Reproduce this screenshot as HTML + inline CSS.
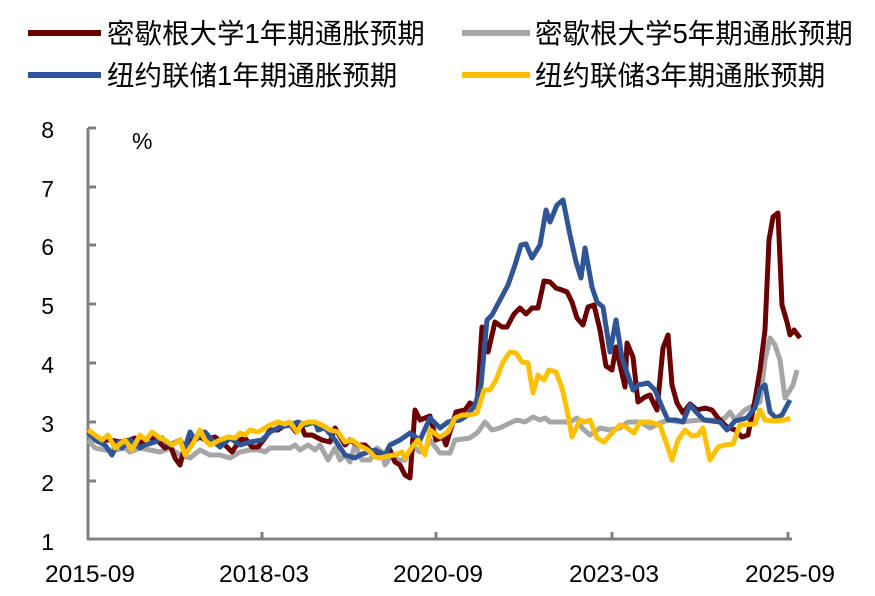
<!DOCTYPE html>
<html><head><meta charset="utf-8"><style>
body{margin:0;background:#fff}
svg{display:block;font-family:"Liberation Sans","Noto Sans CJK SC",sans-serif}
</style></head><body>
<svg width="875" height="596" viewBox="0 0 875 596">
<g font-size="27.5" fill="#000">
<line x1="28" y1="33" x2="101" y2="33" stroke="#6b0000" stroke-width="6"/>
<text x="107" y="43">密歇根大学1年期通胀预期</text>
<line x1="462" y1="33" x2="530" y2="33" stroke="#a6a6a6" stroke-width="6"/>
<text x="535" y="43">密歇根大学5年期通胀预期</text>
<line x1="28" y1="75" x2="101" y2="75" stroke="#2f5597" stroke-width="6"/>
<text x="107" y="85">纽约联储1年期通胀预期</text>
<line x1="462" y1="75" x2="530" y2="75" stroke="#ffc000" stroke-width="6"/>
<text x="535" y="85">纽约联储3年期通胀预期</text>
</g>
<g stroke="#808080" stroke-width="3" fill="none">
<line x1="88" y1="128" x2="88" y2="540"/>
<line x1="87" y1="539" x2="792" y2="539"/>
<line x1="262" y1="539" x2="262" y2="532"/>
<line x1="436" y1="539" x2="436" y2="532"/>
<line x1="612" y1="539" x2="612" y2="532"/>
<line x1="788" y1="539" x2="788" y2="532"/>
<line x1="88" y1="128" x2="96" y2="128"/>
<line x1="88" y1="187" x2="96" y2="187"/>
<line x1="88" y1="245" x2="96" y2="245"/>
<line x1="88" y1="304" x2="96" y2="304"/>
<line x1="88" y1="363" x2="96" y2="363"/>
<line x1="88" y1="422" x2="96" y2="422"/>
<line x1="88" y1="481" x2="96" y2="481"/>
</g>
<g font-size="23" fill="#000" text-anchor="end">
<text x="54" y="138">8</text><text x="54" y="197">7</text><text x="54" y="255">6</text>
<text x="54" y="314">5</text><text x="54" y="373">4</text><text x="54" y="432">3</text>
<text x="54" y="491">2</text><text x="54" y="550">1</text>
</g>
<text x="132" y="149" font-size="23">%</text>
<g font-size="24.5" fill="#000" text-anchor="middle">
<text x="90" y="582">2015-09</text><text x="264" y="582">2018-03</text>
<text x="438" y="582">2020-09</text><text x="614" y="582">2023-03</text>
<text x="790" y="582">2025-09</text>
</g>
<g fill="none" stroke-width="5" stroke-linejoin="round">
<polyline stroke="#a6a6a6" points="88,440 95,448 105,450 115,450 125,448 130,452 140,448 150,450 160,452 170,448 180,455 190,458 200,450 210,455 220,455 230,458 240,452 250,450 260,450 265,452 270,448 280,448 290,448 295,445 300,450 308,445 315,450 320,445 328,460 335,448 340,460 345,455 350,462 355,445 362,460 370,460 377,448 382,452 385,465 392,455 398,460 405,460 410,452 415,448 420,452 425,450 430,440 440,453 450,453 455,440 470,438 478,432 485,422 492,430 500,428 510,423 517,420 525,422 533,417 540,420 545,418 550,422 560,422 570,422 577,418 582,428 590,435 600,428 610,430 620,428 628,422 640,422 650,428 660,423 668,420 680,422 700,420 720,420 725,418 730,412 735,420 745,410 760,402 765,360 770,338 775,345 780,360 785,398 793,385 797,370"/>
<polyline stroke="#6b0000" points="88,430 100,440 110,440 120,442 130,440 135,438 140,443 148,438 155,438 165,448 170,445 175,458 180,465 185,446 190,440 195,440 200,437 205,440 215,437 225,445 232,452 240,440 245,438 252,447 258,447 265,438 270,430 278,430 285,425 290,424 296,432 300,423 305,435 312,435 322,440 330,442 335,428 345,445 350,440 358,445 365,445 375,455 385,455 390,450 395,462 400,465 405,475 410,478 415,410 420,420 430,416 436,440 443,437 446,445 456,412 465,410 470,403 477,407 482,327 488,352 495,322 502,327 507,327 514,314 520,308 526,314 532,308 538,308 544,281 550,282 556,288 562,290 567,292 572,302 577,318 583,325 588,307 594,305 600,330 606,366 612,370 616,347 620,365 625,387 627,343 633,357 638,402 645,397 650,395 653,402 657,410 663,348 668,335 672,385 677,403 683,413 690,404 697,410 705,408 712,410 718,418 727,427 735,430 742,437 748,435 755,400 760,370 765,330 769,240 773,217 778,213 782,305 787,322 790,335 794,330 800,338"/>
<polyline stroke="#2f5597" points="88,432 95,440 105,445 112,455 118,442 122,448 130,440 140,448 145,445 155,442 162,438 170,445 180,440 185,448 190,432 195,440 205,432 212,440 220,447 230,438 240,445 250,442 262,440 270,432 280,427 290,425 298,422 305,425 315,422 318,430 325,428 335,440 345,455 355,458 360,455 368,452 375,450 385,455 390,445 400,440 410,433 420,440 430,418 440,428 448,422 460,420 468,415 475,405 481,385 487,320 492,315 500,300 508,285 515,265 521,245 526,244 532,258 540,245 546,210 550,222 557,205 563,200 570,235 576,262 581,278 585,248 592,287 597,302 603,307 610,352 616,320 622,358 633,390 638,385 648,383 655,390 662,407 668,420 676,420 683,422 690,405 697,413 704,420 712,421 720,422 727,430 735,421 747,418 755,408 760,389 765,385 770,412 776,418 782,415 790,400"/>
<polyline stroke="#ffc000" points="88,430 95,435 102,440 108,435 115,448 125,440 132,450 140,435 146,440 152,432 160,438 165,440 172,445 180,440 185,455 190,448 195,440 200,430 205,440 210,445 220,440 228,437 235,438 240,433 245,435 250,430 258,432 265,428 270,425 278,422 285,424 290,422 297,432 302,424 308,422 315,422 322,425 330,430 338,432 345,442 352,440 360,446 368,450 375,457 380,458 388,456 395,455 402,452 405,458 412,447 418,440 425,455 430,430 440,437 448,432 455,418 462,415 470,415 477,413 484,390 490,390 496,380 503,362 510,352 516,353 522,362 528,363 533,393 538,375 544,380 549,370 556,372 562,388 567,410 572,437 580,420 585,422 590,420 597,438 604,442 612,433 620,425 626,427 634,433 640,422 650,422 660,425 667,445 672,460 678,440 685,430 692,436 698,435 703,428 710,460 718,447 725,445 733,444 740,425 755,424 760,410 765,420 775,421 785,420 790,418"/>
</g>
</svg>
</body></html>
